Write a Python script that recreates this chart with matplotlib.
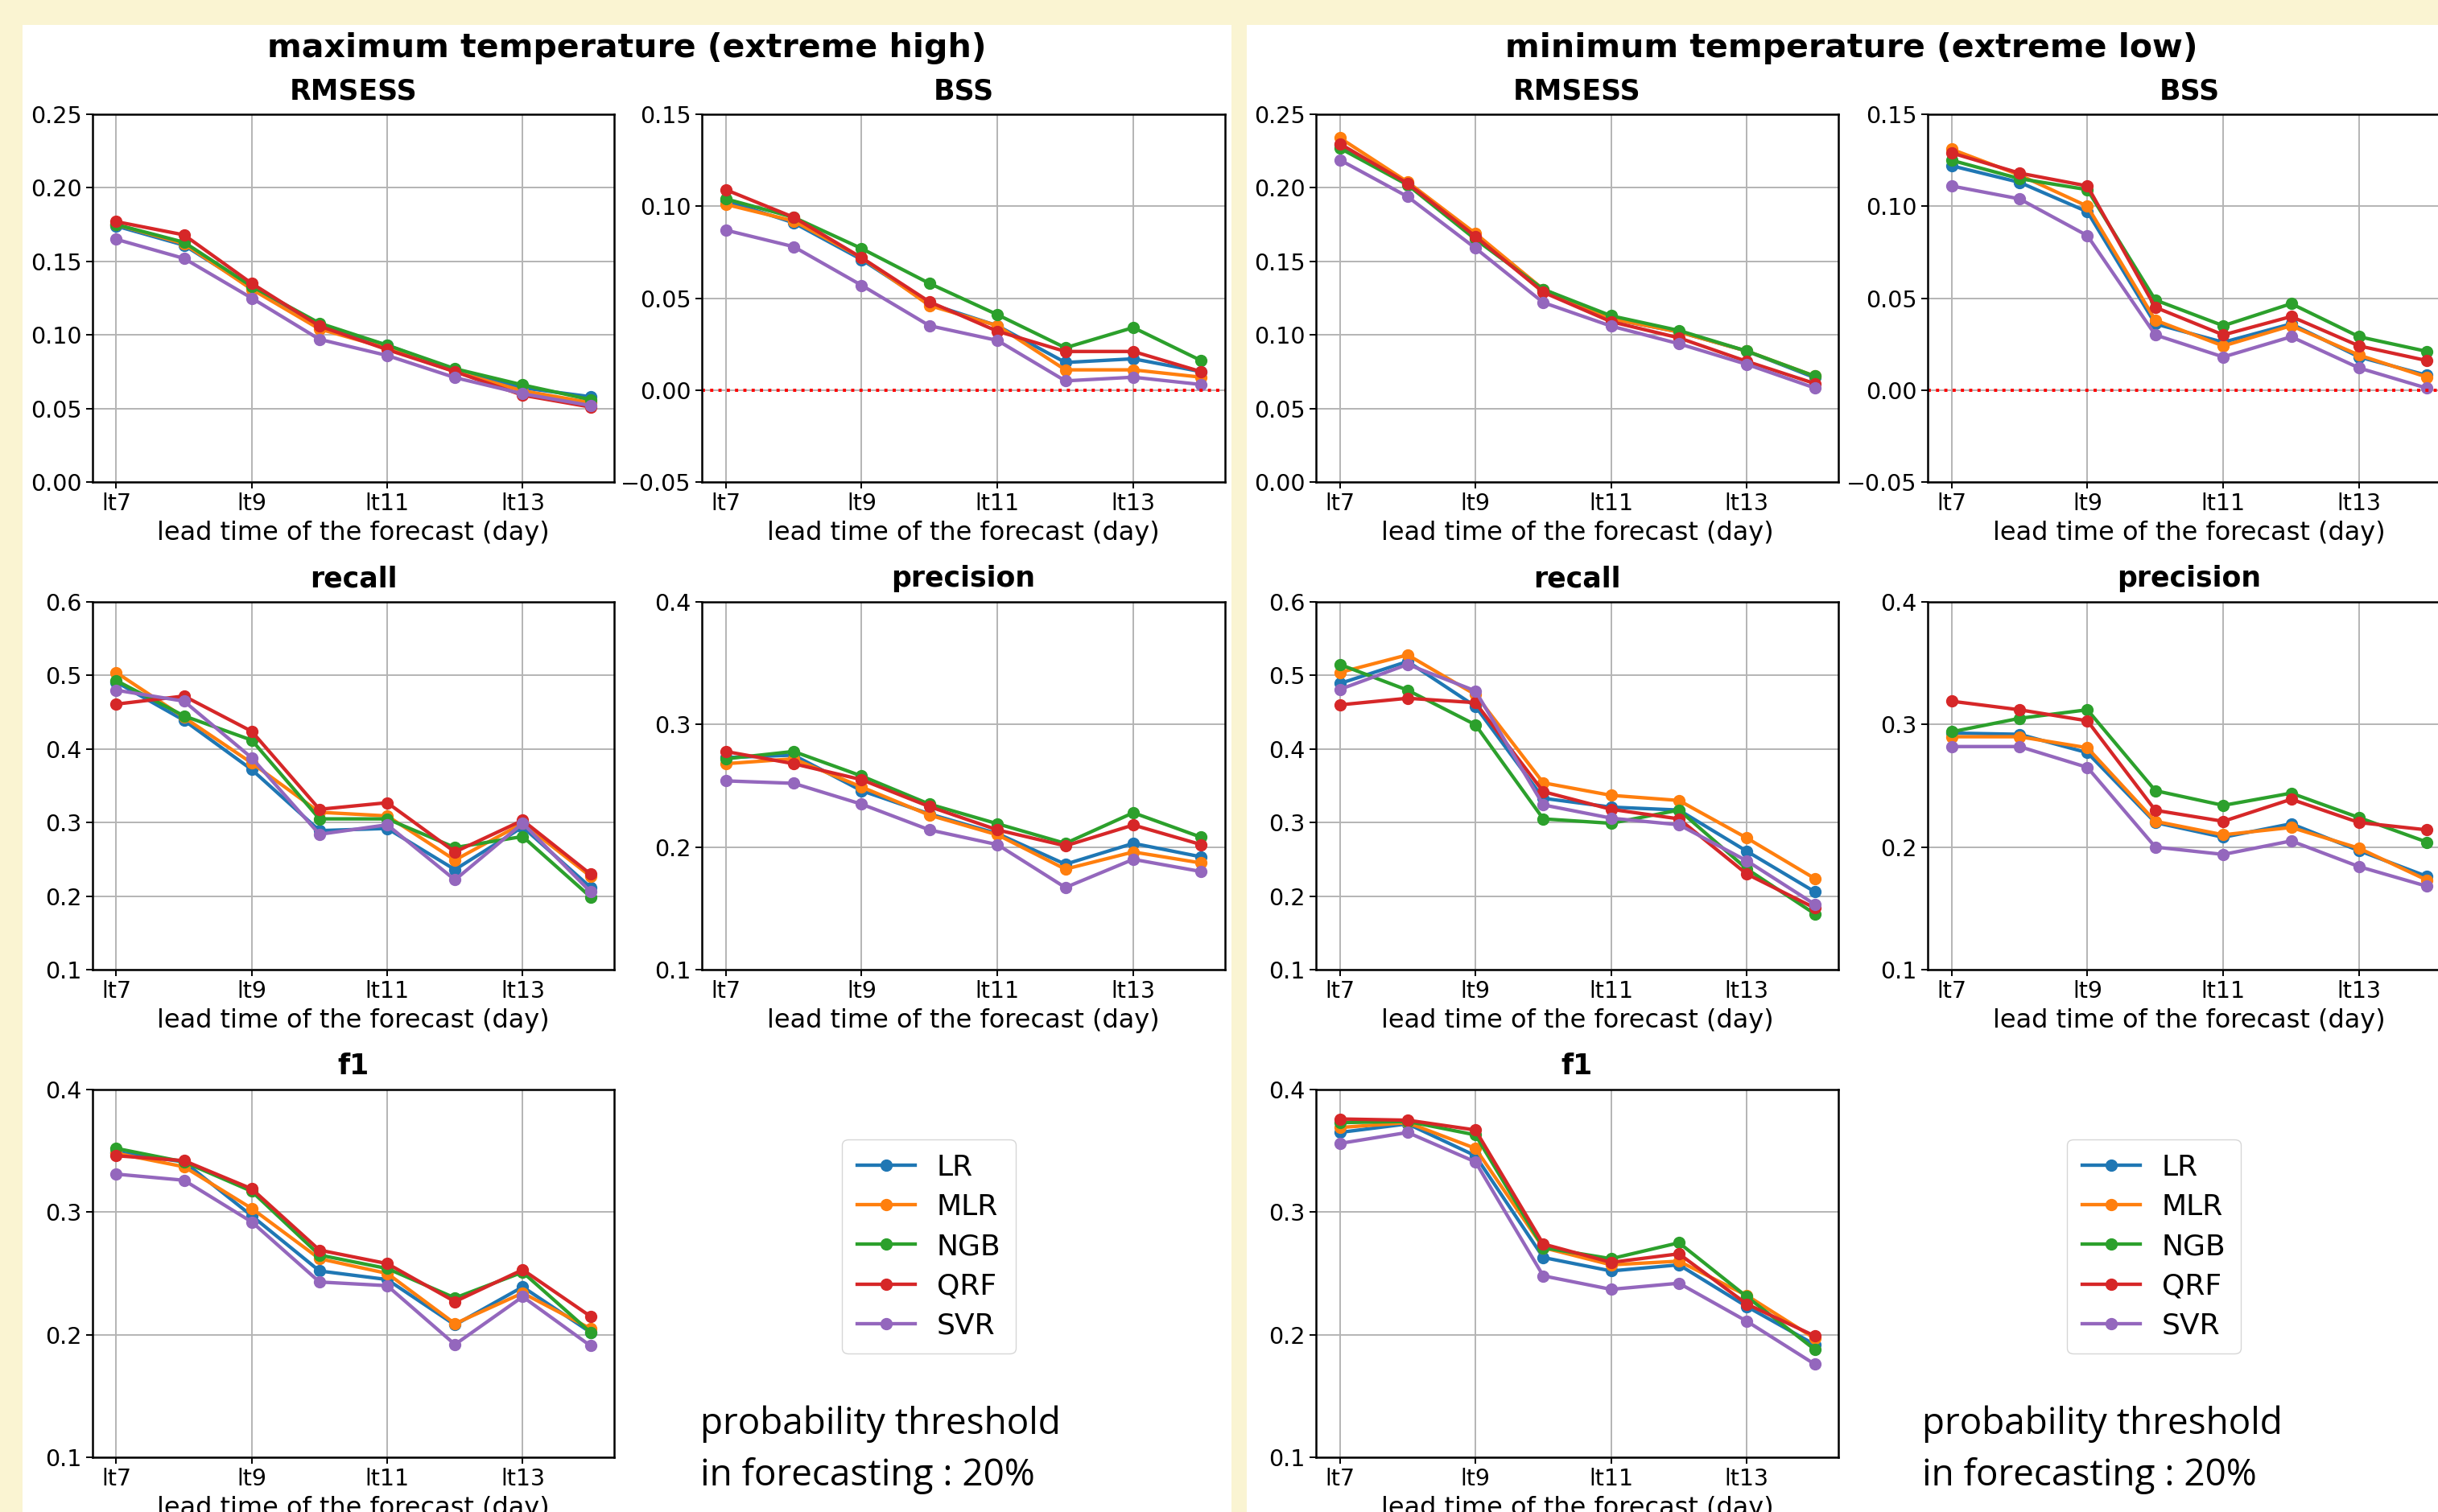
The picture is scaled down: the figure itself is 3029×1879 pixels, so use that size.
import matplotlib.pyplot as plt
from matplotlib.patches import Rectangle
from matplotlib.lines import Line2D

# lead times and models
leads = ['lt7', 'lt8', 'lt9', 'lt10', 'lt11', 'lt12', 'lt13', 'lt14']
models = ['LR', 'MLR', 'NGB', 'QRF', 'SVR']
colors = ['#1f77b4', '#ff7f0e', '#2ca02c', '#d62728', '#9467bd']

# maximum temperature (extreme high), one row per model: LR, MLR, NGB, QRF, SVR
tmax_rmsess = [
    [0.174, 0.161, 0.132, 0.106, 0.093, 0.076, 0.064, 0.058],
    [0.175, 0.162, 0.131, 0.104, 0.091, 0.075, 0.062, 0.054],
    [0.175, 0.163, 0.133, 0.108, 0.093, 0.077, 0.066, 0.056],
    [0.177, 0.168, 0.135, 0.106, 0.090, 0.075, 0.059, 0.051],
    [0.165, 0.152, 0.125, 0.097, 0.086, 0.071, 0.060, 0.052],
]
tmax_bss = [
    [0.103, 0.091, 0.071, 0.047, 0.035, 0.015, 0.017, 0.010],
    [0.101, 0.092, 0.072, 0.046, 0.035, 0.011, 0.011, 0.007],
    [0.104, 0.094, 0.077, 0.058, 0.041, 0.023, 0.034, 0.016],
    [0.109, 0.094, 0.072, 0.048, 0.032, 0.021, 0.021, 0.010],
    [0.087, 0.078, 0.057, 0.035, 0.027, 0.005, 0.007, 0.003],
]
tmax_recall = [
    [0.491, 0.439, 0.372, 0.289, 0.292, 0.236, 0.294, 0.212],
    [0.504, 0.443, 0.381, 0.314, 0.309, 0.249, 0.299, 0.227],
    [0.493, 0.445, 0.412, 0.305, 0.305, 0.266, 0.281, 0.199],
    [0.461, 0.472, 0.424, 0.318, 0.327, 0.260, 0.303, 0.230],
    [0.480, 0.465, 0.388, 0.284, 0.297, 0.222, 0.299, 0.206],
]
tmax_precision = [
    [0.273, 0.275, 0.246, 0.227, 0.211, 0.186, 0.203, 0.192],
    [0.268, 0.272, 0.249, 0.226, 0.210, 0.182, 0.196, 0.187],
    [0.272, 0.278, 0.258, 0.235, 0.219, 0.203, 0.228, 0.208],
    [0.278, 0.268, 0.255, 0.233, 0.214, 0.201, 0.218, 0.202],
    [0.254, 0.252, 0.235, 0.214, 0.202, 0.167, 0.190, 0.180],
]
tmax_f1 = [
    [0.349, 0.341, 0.297, 0.252, 0.245, 0.208, 0.239, 0.202],
    [0.348, 0.337, 0.303, 0.262, 0.250, 0.209, 0.234, 0.205],
    [0.352, 0.341, 0.317, 0.265, 0.254, 0.230, 0.251, 0.202],
    [0.346, 0.342, 0.319, 0.269, 0.258, 0.227, 0.253, 0.215],
    [0.331, 0.326, 0.292, 0.243, 0.240, 0.192, 0.231, 0.191],
]

# minimum temperature (extreme low)
tmin_rmsess = [
    [0.229, 0.203, 0.167, 0.131, 0.111, 0.102, 0.089, 0.071],
    [0.234, 0.204, 0.169, 0.131, 0.111, 0.102, 0.089, 0.072],
    [0.227, 0.202, 0.165, 0.131, 0.113, 0.103, 0.089, 0.072],
    [0.230, 0.203, 0.167, 0.129, 0.109, 0.098, 0.082, 0.067],
    [0.219, 0.194, 0.159, 0.122, 0.106, 0.094, 0.080, 0.064],
]
tmin_bss = [
    [0.122, 0.113, 0.097, 0.036, 0.026, 0.036, 0.018, 0.008],
    [0.131, 0.117, 0.100, 0.038, 0.024, 0.035, 0.019, 0.007],
    [0.125, 0.115, 0.109, 0.049, 0.035, 0.047, 0.029, 0.021],
    [0.129, 0.118, 0.111, 0.045, 0.030, 0.040, 0.024, 0.016],
    [0.111, 0.104, 0.084, 0.030, 0.018, 0.029, 0.012, 0.001],
]
tmin_recall = [
    [0.489, 0.519, 0.458, 0.333, 0.321, 0.317, 0.261, 0.206],
    [0.504, 0.528, 0.474, 0.354, 0.337, 0.330, 0.279, 0.224],
    [0.515, 0.480, 0.433, 0.305, 0.299, 0.317, 0.237, 0.176],
    [0.460, 0.469, 0.463, 0.342, 0.318, 0.305, 0.230, 0.184],
    [0.481, 0.515, 0.479, 0.324, 0.306, 0.297, 0.248, 0.189],
]
tmin_precision = [
    [0.293, 0.292, 0.277, 0.220, 0.208, 0.219, 0.197, 0.176],
    [0.290, 0.290, 0.281, 0.221, 0.210, 0.216, 0.199, 0.173],
    [0.294, 0.305, 0.312, 0.246, 0.234, 0.244, 0.224, 0.204],
    [0.319, 0.312, 0.303, 0.230, 0.221, 0.239, 0.220, 0.214],
    [0.282, 0.282, 0.265, 0.200, 0.194, 0.205, 0.184, 0.168],
]
tmin_f1 = [
    [0.365, 0.372, 0.346, 0.263, 0.252, 0.257, 0.223, 0.192],
    [0.369, 0.373, 0.352, 0.271, 0.257, 0.260, 0.232, 0.197],
    [0.373, 0.374, 0.363, 0.271, 0.262, 0.275, 0.231, 0.188],
    [0.376, 0.375, 0.367, 0.274, 0.259, 0.266, 0.225, 0.199],
    [0.356, 0.365, 0.341, 0.248, 0.237, 0.242, 0.211, 0.176],
]

panel_titles = ['maximum temperature (extreme high)', 'minimum temperature (extreme low)']
note = ['probability threshold', 'in forecasting : 20%']

W, H = 3029, 1879
fig = plt.figure(figsize=(W / 100, H / 100), dpi=100)
fig.patch.set_facecolor('#faf4d2')


def box(x0, y0, x1, y1):
    # pixel box (top-left origin) -> figure fraction
    return [x0 / W, 1 - y1 / H, (x1 - x0) / W, (y1 - y0) / H]


# white panels behind everything
for x0, x1 in [(28, 1530), (1549, 3100)]:
    fig.patches.append(Rectangle((x0 / W, 0), (x1 - x0) / W, 1 - 31 / H,
                                 transform=fig.transFigure, facecolor='white',
                                 edgecolor='none', zorder=-10))

cols = [[(115, 763), (872, 1522)], [(1635, 2284), (2395, 3045)]]
rows = [(142, 599), (748, 1205), (1354, 1811)]

panels = [
    [tmax_rmsess, tmax_bss, tmax_recall, tmax_precision, tmax_f1],
    [tmin_rmsess, tmin_bss, tmin_recall, tmin_precision, tmin_f1],
]
specs = [
    ('RMSESS', (0, 0.25), [0, 0.05, 0.10, 0.15, 0.20, 0.25], '{:.2f}'),
    ('BSS', (-0.05, 0.15), [-0.05, 0, 0.05, 0.10, 0.15], '{:.2f}'),
    ('recall', (0.1, 0.6), [0.1, 0.2, 0.3, 0.4, 0.5, 0.6], '{:.1f}'),
    ('precision', (0.1, 0.4), [0.1, 0.2, 0.3, 0.4], '{:.1f}'),
    ('f1', (0.1, 0.4), [0.1, 0.2, 0.3, 0.4], '{:.1f}'),
]
slots = [(0, 0), (0, 1), (1, 0), (1, 1), (2, 0)]
xs = list(range(len(leads)))

for p in range(2):
    for k, (name, ylim, yticks, fmt) in enumerate(specs):
        r, c = slots[k]
        x0, x1 = cols[p][c]
        y0, y1 = rows[r]
        ax = fig.add_axes(box(x0, y0, x1, y1), zorder=1)
        for m in range(len(models)):
            ax.plot(xs, panels[p][k][m], '-o', color=colors[m], lw=3.1, ms=10,
                    label=models[m])
        if name == 'BSS':
            ax.axhline(0, color='red', ls=':', lw=2.8)
        ax.set_ylim(*ylim)
        ax.set_yticks(yticks)
        ax.set_yticklabels([fmt.format(v).replace('-', '\u2212') for v in yticks])
        ax.set_xticks(xs[::2])
        ax.set_xticklabels(leads[::2])
        ax.grid(True, color='#b4b4b4', lw=1.4)
        ax.set_axisbelow(True)
        ax.tick_params(labelsize=20.5, length=6, width=1.4)
        for s in ax.spines.values():
            s.set_linewidth(1.8)
        ax.set_xlabel('lead time of the forecast (day)', fontsize=23, labelpad=5)
        ax.set_title(name, fontsize=25, fontweight='bold', pad=13.5)

    cx = (28 + 1530) / 2 if p == 0 else 2300
    fig.text(cx / W, 1 - 60 / H, panel_titles[p], fontsize=29.5, fontweight='bold',
             ha='center', va='center')

    handles = [Line2D([], [], color=colors[m], marker='o', lw=3.1, ms=10)
               for m in range(len(models))]
    lx = 1154 if p == 0 else 2676
    fig.legend(handles, models, loc='center', bbox_to_anchor=(lx / W, 1 - 1549 / H),
               fontsize=26, labelspacing=0.42, handlelength=2.0, handletextpad=0.75,
               borderpad=0.5)

    tx = 870 if p == 0 else 2388
    fig.text(tx / W, 1 - 1782 / H, note[0], fontsize=33, family='Open Sans',
             va='baseline')
    fig.text(tx / W, 1 - 1846 / H, note[1], fontsize=33, family='Open Sans',
             va='baseline')

fig.savefig('out.png', dpi=100, facecolor=fig.get_facecolor())
